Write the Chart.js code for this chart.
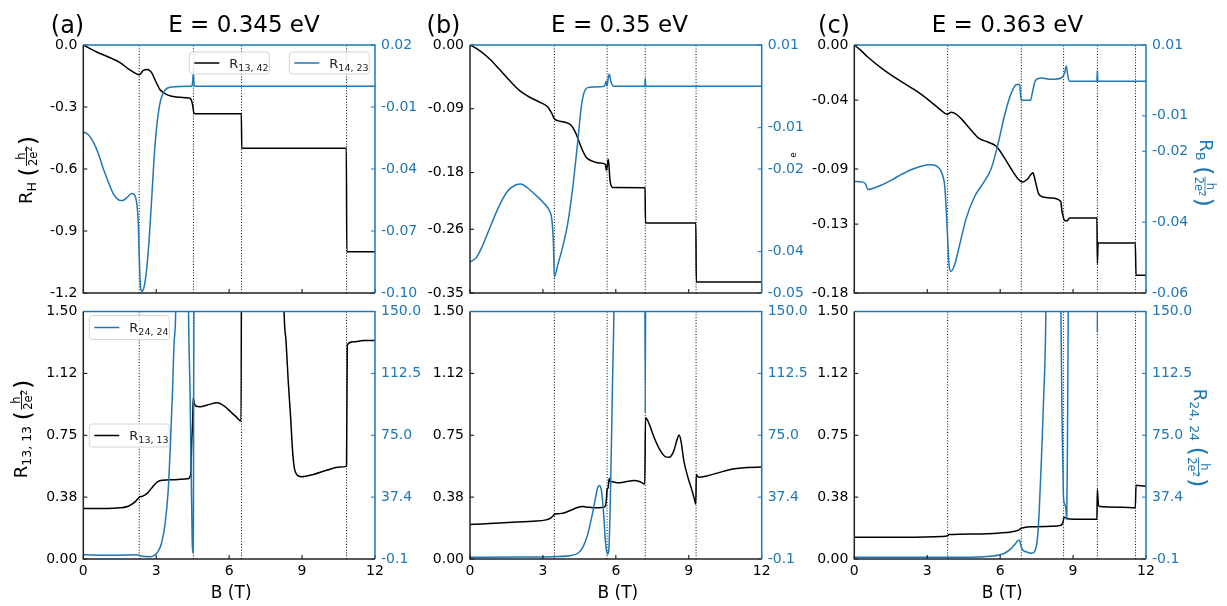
<!DOCTYPE html>
<html><head><meta charset="utf-8">
<script src="https://cdn.jsdelivr.net/npm/chart.js"></script>
<style>
html,body{margin:0;padding:0;background:#fff;}
#wrap{position:relative;width:1227px;height:606px;overflow:hidden;background:#fff;}
canvas{position:absolute;left:0;top:0;}
</style></head><body><div id="wrap">
<canvas id="c1" width="1227" height="606"></canvas>
<canvas id="c2" width="1227" height="606"></canvas>
<canvas id="c3" width="1227" height="606"></canvas>
<canvas id="c4" width="1227" height="606"></canvas>
<canvas id="c5" width="1227" height="606"></canvas>
<canvas id="c6" width="1227" height="606"></canvas>
</div>
<script>
// ---------------- data ----------------
const xTicks = [0, 3, 6, 9, 12];
const xTickLabels = ['0', '3', '6', '9', '12'];

// (a) E = 0.345 eV, top: R13,42 (left axis) and R14,23 (right axis)
const aHallB = [0,0.55,1.03,1.51,1.85,2.19,2.30,2.47,2.65,2.81,2.99,3.15,3.36,3.63,3.98,4.32,4.43,4.50,4.54,4.59,6.50,6.52,10.82,10.84,12];
const aHallR = [0,-0.034,-0.058,-0.085,-0.115,-0.140,-0.144,-0.123,-0.118,-0.134,-0.179,-0.215,-0.235,-0.248,-0.253,-0.256,-0.263,-0.292,-0.324,-0.333,-0.333,-0.5,-0.5,-1.0,-1.0];
const aNlB = [0,0.21,0.41,0.62,0.82,1.03,1.23,1.44,1.60,1.78,1.99,2.10,2.19,2.26,2.30,2.35,2.41,2.50,2.61,2.72,2.83,2.93,3.04,3.18,3.36,3.63,4.39,4.47,4.51,4.53,4.55,4.58,12];
const aNlR = [-0.0221,-0.0234,-0.0269,-0.0326,-0.0398,-0.0463,-0.0519,-0.0548,-0.0553,-0.0540,-0.0519,-0.0524,-0.0560,-0.0656,-0.0818,-0.0963,-0.0992,-0.0971,-0.0882,-0.0721,-0.0511,-0.0318,-0.0173,-0.0068,-0.0019,-0.0003,0,0,0.004,0.0077,0.002,0,0];
// (a) bottom: R13,13 (left) and R24,24 (right)
const aLongB = [0,1.0,1.5,1.85,2.13,2.30,2.45,2.65,2.85,3.05,3.25,3.6,4.3,4.42,4.46,4.50,4.52,4.56,4.63,4.8,5.1,5.5,5.8,6.1,6.3,6.49,6.52,8.15,8.26,8.34,8.43,8.53,8.61,8.68,8.78,8.98,9.46,10.01,10.56,10.83,10.86,11.11,11.52,12];
const aLongR = [0.306,0.306,0.310,0.320,0.346,0.374,0.381,0.401,0.437,0.468,0.478,0.480,0.486,0.512,0.715,0.836,0.978,0.947,0.927,0.923,0.933,0.947,0.927,0.887,0.860,0.836,2.6,2.6,1.5,1.322,1.079,0.856,0.654,0.553,0.512,0.498,0.512,0.538,0.557,0.563,1.298,1.316,1.324,1.324];
const aR24B = [0,1.2,2.19,2.30,2.40,2.75,2.92,3.08,3.22,3.36,3.49,3.59,3.67,3.74,3.80,3.88,4.26,4.33,4.39,4.44,4.48,4.505,4.53,4.54,4.55,4.58,12];
const aR24R = [2.53,2.13,2.53,2.13,1.52,1.32,2.13,4.56,9.6,20.8,41.0,71.4,101.8,132.2,150,300,300,150,101.8,51.2,10.6,3.55,20.8,91.6,150,300,300];
const aVlines = [2.30, 4.53, 6.51, 10.83];

// (b) E = 0.35 eV
const bHallB = [0,0.38,0.80,1.21,1.62,2.03,2.44,2.85,3.20,3.37,3.47,3.61,3.88,4.16,4.36,4.57,4.77,5.05,5.32,5.57,5.61,5.65,5.69,5.76,5.87,7.20,7.22,9.29,9.31,12];
const bHallR = [0,-0.0075,-0.0193,-0.0343,-0.0499,-0.0640,-0.0734,-0.0804,-0.0875,-0.0969,-0.1040,-0.1068,-0.1087,-0.1134,-0.1251,-0.1440,-0.1581,-0.1642,-0.1665,-0.1684,-0.1769,-0.1700,-0.1613,-0.1910,-0.2010,-0.2013,-0.2512,-0.2512,-0.3345,-0.3345];
const bNlB = [0,0.25,0.52,0.86,1.21,1.55,1.89,2.10,2.37,2.72,3.06,3.26,3.37,3.43,3.47,3.61,3.81,4.02,4.22,4.43,4.57,4.70,4.91,5.53,5.60,5.62,5.64,5.68,5.73,5.80,5.90,7.19,7.21,7.23,12];
const bNlR = [-0.0425,-0.0415,-0.0385,-0.0336,-0.0288,-0.0253,-0.0238,-0.0236,-0.0246,-0.0264,-0.0284,-0.0300,-0.0324,-0.0377,-0.0461,-0.0432,-0.0389,-0.0332,-0.0248,-0.0135,-0.0054,-0.0014,-0.0002,0,0.0012,0.0005,0.0001,0.0018,0.0029,0.0011,0,0,0.0019,0,0];
const bLongB = [0,0.5,1.21,2.0,2.58,3.13,3.33,3.44,3.50,3.70,3.95,4.22,4.45,4.64,4.85,5.2,5.49,5.57,5.61,5.64,5.68,5.73,5.77,5.87,6.1,6.4,6.75,7.0,7.19,7.22,7.35,7.55,7.8,8.05,8.2,8.38,8.52,8.6,8.68,8.8,8.95,9.1,9.2,9.27,9.29,9.31,9.4,9.7,10.2,10.8,11.4,12];
const bLongR = [0.2085,0.2126,0.2186,0.2247,0.229,0.237,0.249,0.265,0.273,0.275,0.283,0.300,0.314,0.318,0.314,0.310,0.314,0.320,0.360,0.421,0.431,0.488,0.472,0.468,0.462,0.468,0.476,0.468,0.455,0.856,0.826,0.745,0.664,0.619,0.617,0.654,0.725,0.751,0.715,0.593,0.502,0.431,0.381,0.340,0.334,0.512,0.496,0.502,0.522,0.545,0.555,0.557];
const bR24B = [0,2.0,3.5,4.2,4.45,4.64,4.84,5.0,5.15,5.25,5.33,5.41,5.5,5.57,5.63,5.67,5.71,5.76,5.82,5.87,5.92,6.0,7.17,7.21,7.25,12];
const bR24R = [0.91,1.12,1.32,2.13,3.55,7.0,14.7,24.8,35.9,43.1,44.5,41.0,26.8,10.6,3.95,2.94,5.57,26.8,71.4,111.9,150,300,300,88.6,300,300];
const bVlines = [3.47, 5.64, 7.21, 9.30];

// (c) E = 0.363 eV
const cHallB = [0,0.27,0.55,1.24,1.92,2.61,3.16,3.57,3.82,3.98,4.19,4.46,4.81,5.15,5.49,5.84,6.11,6.45,6.73,6.93,7.14,7.35,7.44,7.58,7.76,8.10,8.49,8.55,8.65,8.75,8.86,9.98,10.00,10.03,11.56,11.59,12];
const cHallR = [0,-0.0039,-0.0087,-0.0184,-0.0264,-0.0341,-0.0414,-0.0474,-0.0503,-0.0489,-0.0501,-0.0547,-0.0619,-0.0680,-0.0704,-0.0735,-0.0801,-0.0898,-0.0970,-0.0994,-0.0970,-0.0927,-0.0982,-0.1079,-0.1103,-0.1110,-0.1135,-0.1212,-0.1273,-0.1277,-0.1256,-0.1256,-0.1587,-0.1437,-0.1437,-0.1672,-0.1672];
const cNlB = [0,0.35,0.48,0.55,0.75,1.10,1.51,1.92,2.33,2.75,3.16,3.43,3.61,3.73,3.82,3.90,3.98,4.12,4.33,4.60,4.94,5.29,5.63,5.90,6.18,6.45,6.66,6.80,6.85,6.88,7.25,7.33,7.45,7.69,8.10,8.51,8.65,8.72,8.79,8.86,9.98,10.00,10.02,12];
const cNlR = [-0.0285,-0.0287,-0.0294,-0.0308,-0.0305,-0.0296,-0.0282,-0.0266,-0.0252,-0.0242,-0.0238,-0.0244,-0.0263,-0.0305,-0.0418,-0.0522,-0.0539,-0.0522,-0.0465,-0.0390,-0.0329,-0.0291,-0.0249,-0.0183,-0.0099,-0.0037,-0.0012,-0.0011,-0.0047,-0.0056,-0.0056,-0.0033,0.0000,0.0007,0.0003,0.0007,0.0020,0.0041,0.0010,-0.0002,-0.0002,0.0028,-0.0002,-0.0002];
const cLongB = [0,2.0,3.6,3.84,3.9,5.0,6.0,6.45,6.7,6.85,6.95,7.4,8.1,8.5,8.58,8.63,8.7,8.85,9.98,10.0,10.04,10.09,11.0,11.56,11.59,11.7,12];
const cLongR = [0.1316,0.1316,0.136,0.1417,0.148,0.152,0.158,0.164,0.172,0.184,0.190,0.196,0.198,0.204,0.219,0.253,0.249,0.243,0.241,0.421,0.330,0.318,0.314,0.310,0.447,0.445,0.441];
const cR24B = [0,4.0,5.35,5.9,6.2,6.45,6.62,6.73,6.80,6.86,6.95,7.1,7.3,7.42,7.52,7.6,7.7,7.8,7.88,7.95,8.45,8.5,8.55,8.6,8.62,8.66,8.70,8.74,8.77,8.80,8.87,9.97,10.0,10.03,12];
const cR24R = [0.91,0.91,1.32,2.13,3.55,6.18,9.0,11.0,11.2,7.6,5.0,4.15,3.35,4.56,10.6,26.8,61.3,101.8,150,300,300,150,81.5,39,35,33,30.9,23.8,71.4,150,300,300,137.2,300,300];
const cVlines = [3.84, 6.87, 8.61, 10.0, 11.57];

// axis ranges / ticks
const aTopL = {min:-1.2, max:0, ticks:[0,-0.3,-0.6,-0.9,-1.2], labels:['0.0','-0.3','-0.6','-0.9','-1.2']};
const aTopR = {min:-0.10, max:0.02, ticks:[0.02,-0.01,-0.04,-0.07,-0.10], labels:['0.02','-0.01','-0.04','-0.07','-0.10']};
const bTopL = {min:-0.35, max:0, ticks:[0,-0.09,-0.18,-0.26,-0.35], labels:['0.00','-0.09','-0.18','-0.26','-0.35']};
const bTopR = {min:-0.05, max:0.01, ticks:[0.01,-0.01,-0.02,-0.04,-0.05], labels:['0.01','-0.01','-0.02','-0.04','-0.05']};
const cTopL = {min:-0.18, max:0, ticks:[0,-0.04,-0.09,-0.13,-0.18], labels:['0.00','-0.04','-0.09','-0.13','-0.18']};
const cTopR = {min:-0.06, max:0.01, ticks:[0.01,-0.01,-0.02,-0.04,-0.06], labels:['0.01','-0.01','-0.02','-0.04','-0.06']};
const botL = {min:0, max:1.5, ticks:[0,0.375,0.75,1.125,1.5], labels:['0.00','0.38','0.75','1.12','1.50']};
const botR = {min:-0.1, max:150, ticks:[-0.1,37.425,74.95,112.475,150], labels:['-0.1','37.4','75.0','112.5','150.0']};

// ---------------- drawing helpers ----------------
const FONT = "'DejaVu Sans', 'Liberation Sans', sans-serif";
const BLUE = '#1f77b4';
const W = 1227, H = 606, WL = 55, WR = 55, PW = 291.7;

function fnt(s){ return s + 'px ' + FONT; }
function mw(ctx, t, s){ ctx.font = fnt(s); return ctx.measureText(t).width; }
function layoutRich(ctx, parts){
  let w = 0;
  parts.forEach(p => {
    if (p.num !== undefined) {
      const wn = mw(ctx, p.num, p.s);
      const wd = mw(ctx, p.den, p.s) + (p.sup ? mw(ctx, p.sup, p.s*0.7) : 0);
      p.w = Math.max(wn, wd) + 3;
    } else p.w = mw(ctx, p.t, p.s);
    w += p.w;
  });
  return w;
}
function drawRich(ctx, parts, x, y, angle, color, align){
  ctx.save();
  ctx.translate(x, y); ctx.rotate(angle);
  const Wt = layoutRich(ctx, parts);
  let cx = align === 'left' ? 0 : -Wt/2;
  ctx.fillStyle = color; ctx.strokeStyle = color;
  ctx.textBaseline = 'alphabetic'; ctx.textAlign = 'left';
  parts.forEach(p => {
    if (p.num !== undefined) {
      const ay = -p.axis;
      ctx.lineWidth = 0.9;
      ctx.beginPath(); ctx.moveTo(cx+1.5, ay); ctx.lineTo(cx+p.w-1.5, ay); ctx.stroke();
      const wn = mw(ctx, p.num, p.s);
      ctx.fillText(p.num, cx + (p.w - wn)/2, ay - 2);
      const ws = p.sup ? mw(ctx, p.sup, p.s*0.7) : 0;
      const wd = mw(ctx, p.den, p.s);
      const dx = cx + (p.w - wd - ws)/2;
      const by = ay + 2 + p.s*0.73;
      ctx.fillText(p.den, dx, by);
      if (p.sup) { ctx.font = fnt(p.s*0.7); ctx.fillText(p.sup, dx + wd, by - p.s*0.42); }
    } else {
      ctx.font = fnt(p.s);
      ctx.fillText(p.t, cx, p.dy || 0);
    }
    cx += p.w;
  });
  ctx.restore();
}
function ylabelParts(sub){
  return [{t:'R', s:18}, {t:sub, s:12.5, dy:4}, {t:' ', s:18}, {t:'(', s:23, dy:4},
          {num:'h', den:'2e', sup:'2', s:11.5, axis:5}, {t:')', s:23, dy:4}];
}
function drawLegend(ctx, lg){
  ctx.save();
  ctx.beginPath();
  ctx.roundRect(lg.x, lg.y, lg.w, lg.h, 3);
  ctx.fillStyle = 'rgba(255,255,255,0.8)'; ctx.fill();
  ctx.strokeStyle = '#d6d6d6'; ctx.lineWidth = 1; ctx.stroke();
  const my = lg.y + lg.h/2;
  ctx.strokeStyle = lg.color; ctx.lineWidth = 1.5;
  ctx.beginPath(); ctx.moveTo(lg.x+5, my); ctx.lineTo(lg.x+30, my); ctx.stroke();
  drawRich(ctx, [{t:'R', s:13}, {t:lg.sub, s:9.5, dy:3}], lg.x+40, my+4.5, 0, '#222', 'left');
  ctx.restore();
}

function decoPlugin(p){
  return {
    id: 'deco',
    afterDraw(chart){
      const ctx = chart.ctx, a = chart.chartArea;
      const sx = chart.scales.x, yl = chart.scales.yL, yr = chart.scales.yR;
      ctx.save();
      ctx.lineWidth = 1;
      ctx.strokeStyle = '#000';
      sx.ticks.forEach(t => { const q = sx.getPixelForValue(t.value); ctx.beginPath(); ctx.moveTo(q, a.bottom); ctx.lineTo(q, a.bottom-4); ctx.stroke(); });
      yl.ticks.forEach(t => { const q = yl.getPixelForValue(t.value); ctx.beginPath(); ctx.moveTo(a.left, q); ctx.lineTo(a.left+4, q); ctx.stroke(); });
      ctx.strokeStyle = BLUE;
      yr.ticks.forEach(t => { const q = yr.getPixelForValue(t.value); ctx.beginPath(); ctx.moveTo(a.right, q); ctx.lineTo(a.right-4, q); ctx.stroke(); });
      ctx.lineWidth = 1.5;
      ctx.strokeStyle = '#222';
      ctx.beginPath(); ctx.moveTo(a.left, a.top); ctx.lineTo(a.left, a.bottom); ctx.lineTo(a.right, a.bottom); ctx.stroke();
      ctx.strokeStyle = BLUE;
      ctx.beginPath(); ctx.moveTo(a.left, a.top); ctx.lineTo(a.right, a.top); ctx.lineTo(a.right, a.bottom); ctx.stroke();
      (p.legends || []).forEach(lg => drawLegend(ctx, lg));
      ctx.fillStyle = '#000';
      ctx.textBaseline = 'alphabetic'; ctx.textAlign = 'center';
      if (p.title) {
        ctx.font = fnt(24); ctx.fillText(p.title.tag, p.title.tagX, 32.5);
        ctx.font = fnt(23); ctx.fillText(p.title.text, p.title.x, 32);
      }
      if (p.xlabel) { ctx.font = fnt(17); ctx.fillText('B (T)', (a.left+a.right)/2 + 2, 598); }
      (p.ylabels || []).forEach(l => drawRich(ctx, ylabelParts(l.sub), l.x, l.y, l.angle, l.color));
      if (p.stray) {
        ctx.save(); ctx.translate(p.stray.x, p.stray.y); ctx.rotate(-Math.PI/2);
        ctx.font = fnt(9); ctx.fillStyle = '#000'; ctx.fillText('e', 0, 0); ctx.restore();
      }
      ctx.restore();
    }
  };
}

function series(xs, ys, color, axis, order){
  return {data: xs.map((x, i) => ({x: x, y: ys[i]})), borderColor: color, borderWidth: 1.5,
          pointRadius: 0, yAxisID: axis, order: order, fill: false, cubicInterpolationMode: 'monotone'};
}
function yScale(pos, r, color){
  return {type:'linear', position: pos, min: r.min, max: r.max,
    afterBuildTicks: s => { s.ticks = r.ticks.map(v => ({value: v})); },
    ticks: {callback: (v, i) => r.labels[i], font: {family: FONT, size: 14}, color: color, padding: 6, autoSkip: false},
    grid: {display: false, drawTicks: false}, border: {display: false},
    afterFit: s => { s.width = pos === 'left' ? WL : WR; }};
}
function makePanel(id, p){
  const datasets = [series(p.rB, p.rV, BLUE, 'yR', 1), series(p.lB, p.lV, '#000', 'yL', 2)];
  p.vlines.forEach(v => datasets.push({data: [{x: v, y: p.yl.min}, {x: v, y: p.yl.max}], borderColor: '#000',
    borderWidth: 1, borderDash: [1, 1.8], pointRadius: 0, yAxisID: 'yL', order: 5, fill: false}));
  new Chart(document.getElementById(id), {
    type: 'line',
    data: {datasets: datasets},
    options: {
      responsive: false, animation: false, devicePixelRatio: 1, events: [],
      layout: {padding: {left: p.L - WL, right: W - (p.L + PW) - WR, top: p.T, bottom: H - p.B - p.hx}},
      plugins: {legend: {display: false}, tooltip: {enabled: false}, title: {display: false}},
      scales: {
        x: {type: 'linear', min: 0, max: 12,
            afterBuildTicks: s => { s.ticks = xTicks.map(v => ({value: v})); },
            ticks: {display: p.showX, callback: (v, i) => xTickLabels[i], font: {family: FONT, size: 14}, color: '#000', padding: 4, maxRotation: 0, autoSkip: false},
            grid: {display: false, drawTicks: false}, border: {display: false},
            afterFit: s => { s.height = p.hx; }},
        yL: yScale('left', p.yl, '#000'),
        yR: yScale('right', p.yr, BLUE)
      }
    },
    plugins: [decoPlugin(p)]
  });
}

const LA = 83.3, LB = 470, LC = 854.3, TT = 45, TB = 293, BT = 311.5, BB = 559;

makePanel('c1', {L: LA, T: TT, B: TB, hx: 5, showX: false, yl: aTopL, yr: aTopR,
  lB: aHallB, lV: aHallR, rB: aNlB, rV: aNlR, vlines: aVlines,
  title: {tag: '(a)', tagX: 67.5, text: 'E = 0.345 eV', x: 244},
  legends: [{x: 189.3, y: 52, w: 80, h: 22, color: '#000', sub: '13, 42'}, {x: 289.3, y: 52, w: 80, h: 22, color: BLUE, sub: '14, 23'}],
  ylabels: [{sub: 'H', x: 31.5, y: 170, angle: -Math.PI/2, color: '#000'}]});
makePanel('c2', {L: LB, T: TT, B: TB, hx: 5, showX: false, yl: bTopL, yr: bTopR,
  lB: bHallB, lV: bHallR, rB: bNlB, rV: bNlR, vlines: bVlines,
  title: {tag: '(b)', tagX: 443.5, text: 'E = 0.35 eV', x: 619.5},
  stray: {x: 796, y: 155}});
makePanel('c3', {L: LC, T: TT, B: TB, hx: 5, showX: false, yl: cTopL, yr: cTopR,
  lB: cHallB, lV: cHallR, rB: cNlB, rV: cNlR, vlines: cVlines,
  title: {tag: '(c)', tagX: 834, text: 'E = 0.363 eV', x: 1007.5},
  ylabels: [{sub: 'B', x: 1200, y: 173, angle: Math.PI/2, color: BLUE}]});
makePanel('c4', {L: LA, T: BT, B: BB, hx: 30, showX: true, xlabel: true, yl: botL, yr: botR,
  lB: aLongB, lV: aLongR, rB: aR24B, rV: aR24R, vlines: aVlines,
  legends: [{x: 89.3, y: 315.5, w: 80, h: 24, color: BLUE, sub: '24, 24'}, {x: 89.3, y: 424, w: 80, h: 23, color: '#000', sub: '13, 13'}],
  ylabels: [{sub: '13, 13', x: 26.5, y: 429, angle: -Math.PI/2, color: '#000'}]});
makePanel('c5', {L: LB, T: BT, B: BB, hx: 30, showX: true, xlabel: true, yl: botL, yr: botR,
  lB: bLongB, lV: bLongR, rB: bR24B, rV: bR24R, vlines: bVlines});
makePanel('c6', {L: LC, T: BT, B: BB, hx: 30, showX: true, xlabel: true, yl: botL, yr: botR,
  lB: cLongB, lV: cLongR, rB: cR24B, rV: cR24R, vlines: cVlines,
  ylabels: [{sub: '24, 24', x: 1193.5, y: 438, angle: Math.PI/2, color: BLUE}]});
</script>
</body></html>
